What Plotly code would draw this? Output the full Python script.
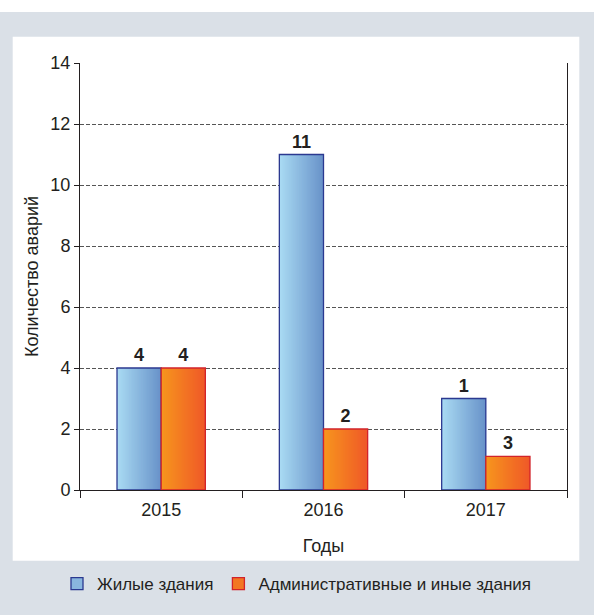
import plotly.graph_objects as go

# ---- data ----
years = ["2015", "2016", "2017"]
residential = [4, 11, 3]          # bar heights as drawn
admin = [4, 2, 1.1]               # bar heights as drawn
residential_labels = ["4", "11", "1"]
admin_labels = ["4", "2", "3"]
y_ticks = [0, 2, 4, 6, 8, 10, 12, 14]
series_names = ["Жилые здания", "Административные и иные здания"]

# ---- style ----
FONT = "Liberation Sans, Arial, sans-serif"
FS = 18
BW = 0.272
NSL = 44

def lerp(c1, c2, t):
    return "rgb(%d,%d,%d)" % tuple(round(a + (b - a) * t) for a, b in zip(c1, c2))

blue_l, blue_r, blue_edge = (170, 219, 243), (104, 146, 201), "#2B3990"
org_l, org_r, org_edge = (247, 150, 30), (239, 88, 40), "#D2232A"

fig = go.Figure()

def add_series(vals, labels, off, cl, cr, edge, name):
    for i in range(NSL):
        w = BW / NSL * (2.0 if i < NSL - 1 else 1.0)
        fig.add_trace(go.Bar(
            x=years, y=vals, width=w, offset=off + i * BW / NSL,
            marker=dict(color=lerp(cl, cr, (i + 0.5) / NSL), line=dict(width=0)),
            showlegend=False, hoverinfo="skip"))
    fig.add_trace(go.Bar(
        x=years, y=vals, width=BW, offset=off,
        marker=dict(color="rgba(0,0,0,0)", line=dict(color=edge, width=1.3)),
        text=labels, textposition="outside", cliponaxis=False,
        textfont=dict(family="Liberation Sans, Arial, sans-serif", size=18,
                      color="#231F20", weight="bold"),
        showlegend=False, name=name))
    fig.add_trace(go.Bar(
        x=[None], y=[None], name=name,
        marker=dict(color=lerp(cl, cr, 0.5), line=dict(color=edge, width=1.3))))

add_series(residential, residential_labels, -BW, blue_l, blue_r, blue_edge, series_names[0])
add_series(admin, admin_labels, 0.0, org_l, org_r, org_edge, series_names[1])

L, R, T, B = 80, 27, 63, 125
W, H = 594, 615
pw, ph = W - L - R, H - T - B

def px(x):
    return (x - L) / pw

def py(y):
    return (H - B - y) / ph

shapes = [
    dict(type="rect", xref="paper", yref="paper", x0=px(0), x1=px(W),
         y0=py(12), y1=py(0), fillcolor="#FFFFFF", line=dict(width=0), layer="above"),
    dict(type="rect", xref="paper", yref="paper", x0=px(12.7), x1=px(579.3),
         y0=py(560.7), y1=py(36.7), fillcolor="white", line=dict(width=0), layer="below"),
]

fig.update_layout(
    width=W, height=H,
    margin=dict(l=L, r=R, t=T, b=B, autoexpand=False),
    paper_bgcolor="#DAE0E7",
    plot_bgcolor="white",
    barmode="overlay",
    shapes=shapes,
    font=dict(family=FONT, size=FS, color="#231F20"),
    xaxis=dict(
        type="category", showline=True, linecolor="#231F20", linewidth=1,
        ticks="outside", tickson="boundaries", ticklen=7, tickcolor="#231F20",
        showgrid=False, tickfont=dict(size=FS), ticklabelstandoff=3,
        title=dict(text="Годы", font=dict(size=FS), standoff=20),
        range=[-0.5, 2.5],
    ),
    yaxis=dict(
        range=[0, 14], tickvals=y_ticks, showline=True, mirror=True,
        linecolor="#231F20", linewidth=1, ticks="outside", ticklen=5,
        tickcolor="#231F20", showgrid=True, gridcolor="#555555",
        griddash="4px,2px", gridwidth=1, zeroline=False,
        tickfont=dict(size=FS),
        title=dict(text="Количество аварий", font=dict(size=FS), standoff=7),
    ),
    legend=dict(orientation="h", x=px(297), xanchor="center", y=py(584), yanchor="middle",
                font=dict(size=17), bgcolor="rgba(0,0,0,0)", itemwidth=30,
                traceorder="normal"),
    showlegend=True,
)

fig.write_html("out.html", config={"displayModeBar": False},
               post_script="document.body.style.margin='0';document.body.style.overflow='hidden';")
